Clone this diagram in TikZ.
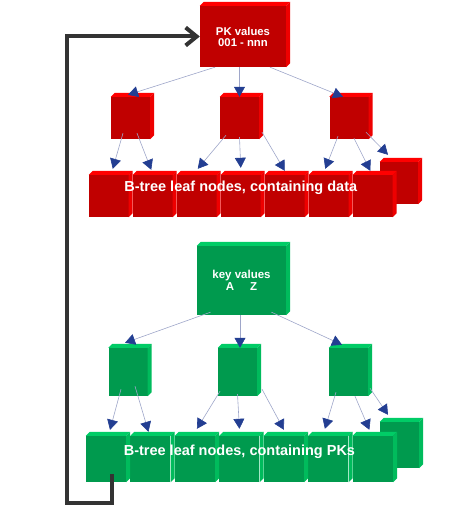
\documentclass[tikz,border=0pt]{standalone}
\usepackage{fontspec}
\setmainfont{Liberation Sans}
\usetikzlibrary{positioning,arrows.meta}
\definecolor{rfront}{HTML}{C00000}
\definecolor{rtop}{HTML}{FF0000}
\definecolor{rside}{HTML}{EE0000}
\definecolor{gfront}{HTML}{009A4E}
\definecolor{gtop}{HTML}{00CC66}
\definecolor{gside}{HTML}{00BB5C}
\definecolor{linkgray}{HTML}{9EA6C9}
\definecolor{arrowblue}{HTML}{233E92}
\definecolor{loopgray}{HTML}{333333}

% top and right faces of a box node
\newcommand{\cubefaces}[3]{%
  \fill[#2] (#1.north west) -- ++(4pt,4pt) -- ([shift={(4pt,4pt)}]#1.north east) -- (#1.north east) -- cycle;
  \fill[#3] (#1.north east) -- ++(4pt,4pt) -- ([shift={(4pt,4pt)}]#1.south east) -- (#1.south east) -- cycle;}

\begin{document}
\begin{tikzpicture}[
  x = 1pt,
  y = -1pt,
  cube/.style = {
    rectangle,
    inner sep = 0pt,
    text = white,
    align = center,
  },
  rcube/.style = {
    cube,
    fill = rfront,
  },
  gcube/.style = {
    cube,
    fill = gfront,
  },
  rmidbox/.style = {rcube, minimum width = 39pt, minimum height = 42pt},
  gmidbox/.style = {gcube, minimum width = 39pt, minimum height = 48pt},
  rleafbox/.style = {rcube, minimum width = 39.5pt, minimum height = 42pt},
  gleafbox/.style = {gcube, minimum width = 40pt, minimum height = 46pt},
  caption/.style = {
    text = white,
    font = \bfseries\fontsize{14.5}{16}\selectfont,
  },
  link/.style = {
    draw = linkgray,
    line width = 0.6pt,
    -{Triangle[length=10pt,width=11pt,color=arrowblue]},
  },
  loopline/.style = {
    draw = loopgray,
    line width = 4pt,
    -{Straight Barb[length=11pt,width=18pt]},
  },
]

  \useasboundingbox (0,0) rectangle (474,524);

  % PK tree
  \node[rcube,minimum width=86pt,minimum height=61pt,font=\bfseries\fontsize{11.3}{11}\selectfont] (rroot) at (243,36.5) {PK values\\001 - nnn};

  \node[rmidbox] (rmid1) at (130.5,118) {};
  \node[rmidbox] (rmid2) at (239.5,118) {};
  \node[rmidbox] (rmid3) at (349,118) {};

  \node[rcube,minimum width=38pt,minimum height=42pt] (rback) at (399,183) {};
  \node[rleafbox] (rleaf1) at (108.75,196) {};
  \node[rleafbox] (rleaf2) [right=4.1pt of rleaf1] {};
  \node[rleafbox] (rleaf3) [right=4.1pt of rleaf2] {};
  \node[rleafbox] (rleaf4) [right=4.1pt of rleaf3] {};
  \node[rleafbox] (rleaf5) [right=4.1pt of rleaf4] {};
  \node[rleafbox] (rleaf6) [right=4.1pt of rleaf5] {};
  \node[rleafbox] (rleaf7) [right=4.1pt of rleaf6] {};

  % key tree
  \node[gcube,minimum width=89pt,minimum height=69pt,font=\bfseries\fontsize{11.5}{12}\selectfont] (groot) at (241.5,280.5) {key values\\A\hspace{16pt}Z};

  \node[gmidbox] (gmid1) at (128,372) {};
  \node[gmidbox] (gmid2) at (237.5,372) {};
  \node[gmidbox] (gmid3) at (348.5,372) {};

  \node[gcube,minimum width=39pt,minimum height=46pt] (gback) at (399.5,445) {};
  \node[gleafbox] (gleaf1) at (106,459) {};
  \node[gleafbox] (gleaf2) [right=4.08pt of gleaf1] {};
  \node[gleafbox] (gleaf3) [right=4.08pt of gleaf2] {};
  \node[gleafbox] (gleaf4) [right=4.08pt of gleaf3] {};
  \node[gleafbox] (gleaf5) [right=4.08pt of gleaf4] {};
  \node[gleafbox] (gleaf6) [right=4.08pt of gleaf5] {};
  \node[gleafbox] (gleaf7) [right=4.08pt of gleaf6] {};

  \foreach \n in {rroot,rmid1,rmid2,rmid3,rback,rleaf1,rleaf2,rleaf3,rleaf4,rleaf5,rleaf6,rleaf7}
    {\cubefaces{\n}{rtop}{rside}}
  \foreach \n in {groot,gmid1,gmid2,gmid3,gback,gleaf1,gleaf2,gleaf3,gleaf4,gleaf5,gleaf6,gleaf7}
    {\cubefaces{\n}{gtop}{gside}}

  \node[caption] (rcaption) at ([yshift=8pt]rleaf4.center) {B-tree leaf nodes, containing data};
  \node[caption] (gcaption) at ([yshift=7pt]gleaf4.center) {B-tree leaf nodes, containing PKs};

  % PK tree links
  \draw[link] ([xshift=-28pt]rroot.south) -- ([xshift=-2.5pt,yshift=2pt]rmid1.north);
  \draw[link] (rmid2.north |- rroot.south) -- (rmid2.north);
  \draw[link] ([xshift=27pt]rroot.south) -- ([xshift=-6pt]rmid3.north);

  \draw[link] ([xshift=-7.5pt,yshift=6pt]rmid1.south) -- ([xshift=4pt,yshift=6pt]rleaf1.north);
  \draw[link] ([xshift=6.5pt,yshift=6pt]rmid1.south) -- ([xshift=-1.5pt,yshift=5pt]rleaf2.north);
  \draw[link] ([xshift=-13.5pt,yshift=4pt]rmid2.south) -- ([xshift=1pt,yshift=6pt]rleaf3.north);
  \draw[link] ([yshift=2pt]rmid2.south) -- ([yshift=7pt]rleaf4.north);
  \draw[link] ([xshift=22.5pt,yshift=7pt]rmid2.south) -- ([yshift=4pt]rleaf5.north);
  \draw[link] ([xshift=-11pt,yshift=3pt]rmid3.south) -- ([xshift=-3.5pt,yshift=6pt]rleaf6.north);
  \draw[link] ([xshift=5pt,yshift=1pt]rmid3.south) -- ([xshift=-2.5pt,yshift=4pt]rleaf7.north);
  \draw[link] ([xshift=17pt,yshift=7pt]rmid3.south) -- ([xshift=-11pt,yshift=7pt]rback.north);

  % key tree links
  \draw[link] ([xshift=-31pt,yshift=3pt]groot.south) -- ([xshift=-3pt,yshift=5pt]gmid1.north);
  \draw[link] ([xshift=2.5pt]gmid2.north |- groot.south) -- ([xshift=2.5pt]gmid2.north);
  \draw[link] ([xshift=30pt,yshift=3pt]groot.south) -- ([xshift=-6.5pt,yshift=3pt]gmid3.north);

  \draw[link] ([xshift=-7pt,yshift=7pt]gmid1.south) -- ([xshift=4pt,yshift=6pt]gleaf1.north);
  \draw[link] ([xshift=7pt,yshift=10pt]gmid1.south) -- ([xshift=-2pt,yshift=4pt]gleaf2.north);
  \draw[link] ([xshift=-17.5pt,yshift=5pt]gmid2.south) -- ([xshift=2pt,yshift=7pt]gleaf3.north);
  \draw[link] ([yshift=2pt]gmid2.south) -- ([yshift=7pt]gleaf4.north);
  \draw[link] ([xshift=24.5pt,yshift=7pt]gmid2.south) -- ([yshift=6pt]gleaf5.north);
  \draw[link] ([xshift=-12.5pt,yshift=4pt]gmid3.south) -- ([xshift=-3.5pt,yshift=7pt]gleaf6.north);
  \draw[link] ([xshift=6.5pt]gmid3.south) -- ([xshift=-3.5pt,yshift=6pt]gleaf7.north);
  \draw[link] ([xshift=21.5pt,yshift=8pt]gmid3.south) -- ([xshift=-11.5pt,yshift=7pt]gback.north);

  % loop back to the PK tree
  \coordinate (loopin) at ([xshift=6pt,yshift=-15pt]gleaf1.center);
  \coordinate (loopturn) at (67,503);
  \draw[loopline] (loopin) |- (loopturn) |- (rroot.west);

\end{tikzpicture}
\end{document}
